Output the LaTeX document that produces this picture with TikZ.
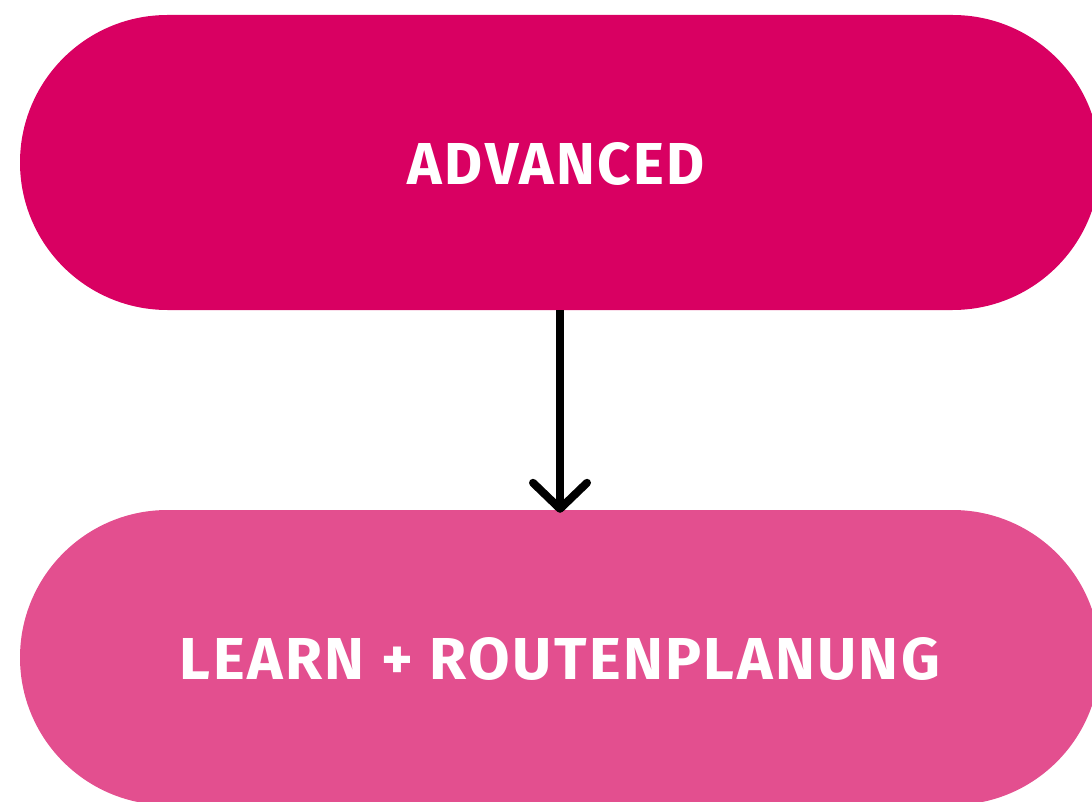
\documentclass[tikz,border=0pt]{standalone}
\usepackage{fontspec}
\setmainfont{Fira Sans}
\newfontfamily\pillfont[LetterSpace=4]{Fira Sans}
\usetikzlibrary{shapes.misc,arrows.meta}
\definecolor{advpink}{HTML}{D90062}
\definecolor{learnpink}{HTML}{E34F8F}
\tikzset{
  pill/.style={rounded rectangle, rounded rectangle arc length=180, minimum width=1080pt, minimum height=295pt, inner sep=0pt, draw=none},
  label/.style={text=white, inner sep=0pt, font=\pillfont\bfseries},
  flow/.style={line width=8pt, -{Straight Barb[length=26pt, width=54pt, line cap=round, line join=round]}}
}
\begin{document}
\begin{tikzpicture}[x=1pt, y=-1pt]
\useasboundingbox (0,0) rectangle (1092,802);
\node[pill, fill=advpink] (adv) at (560,162.5) {};
\node[pill, fill=learnpink] (learn) at (560,657.5) {};
\node[label] (advtext) at (556.5,164) {\resizebox{297pt}{42pt}{ADVANCED}};
\node[label] (learntext) at (560,659) {\resizebox{760pt}{42pt}{LEARN + ROUTENPLANUNG}};
\draw[flow] (adv.south) -- ([yshift=-3pt]learn.north);
\end{tikzpicture}
\end{document}
